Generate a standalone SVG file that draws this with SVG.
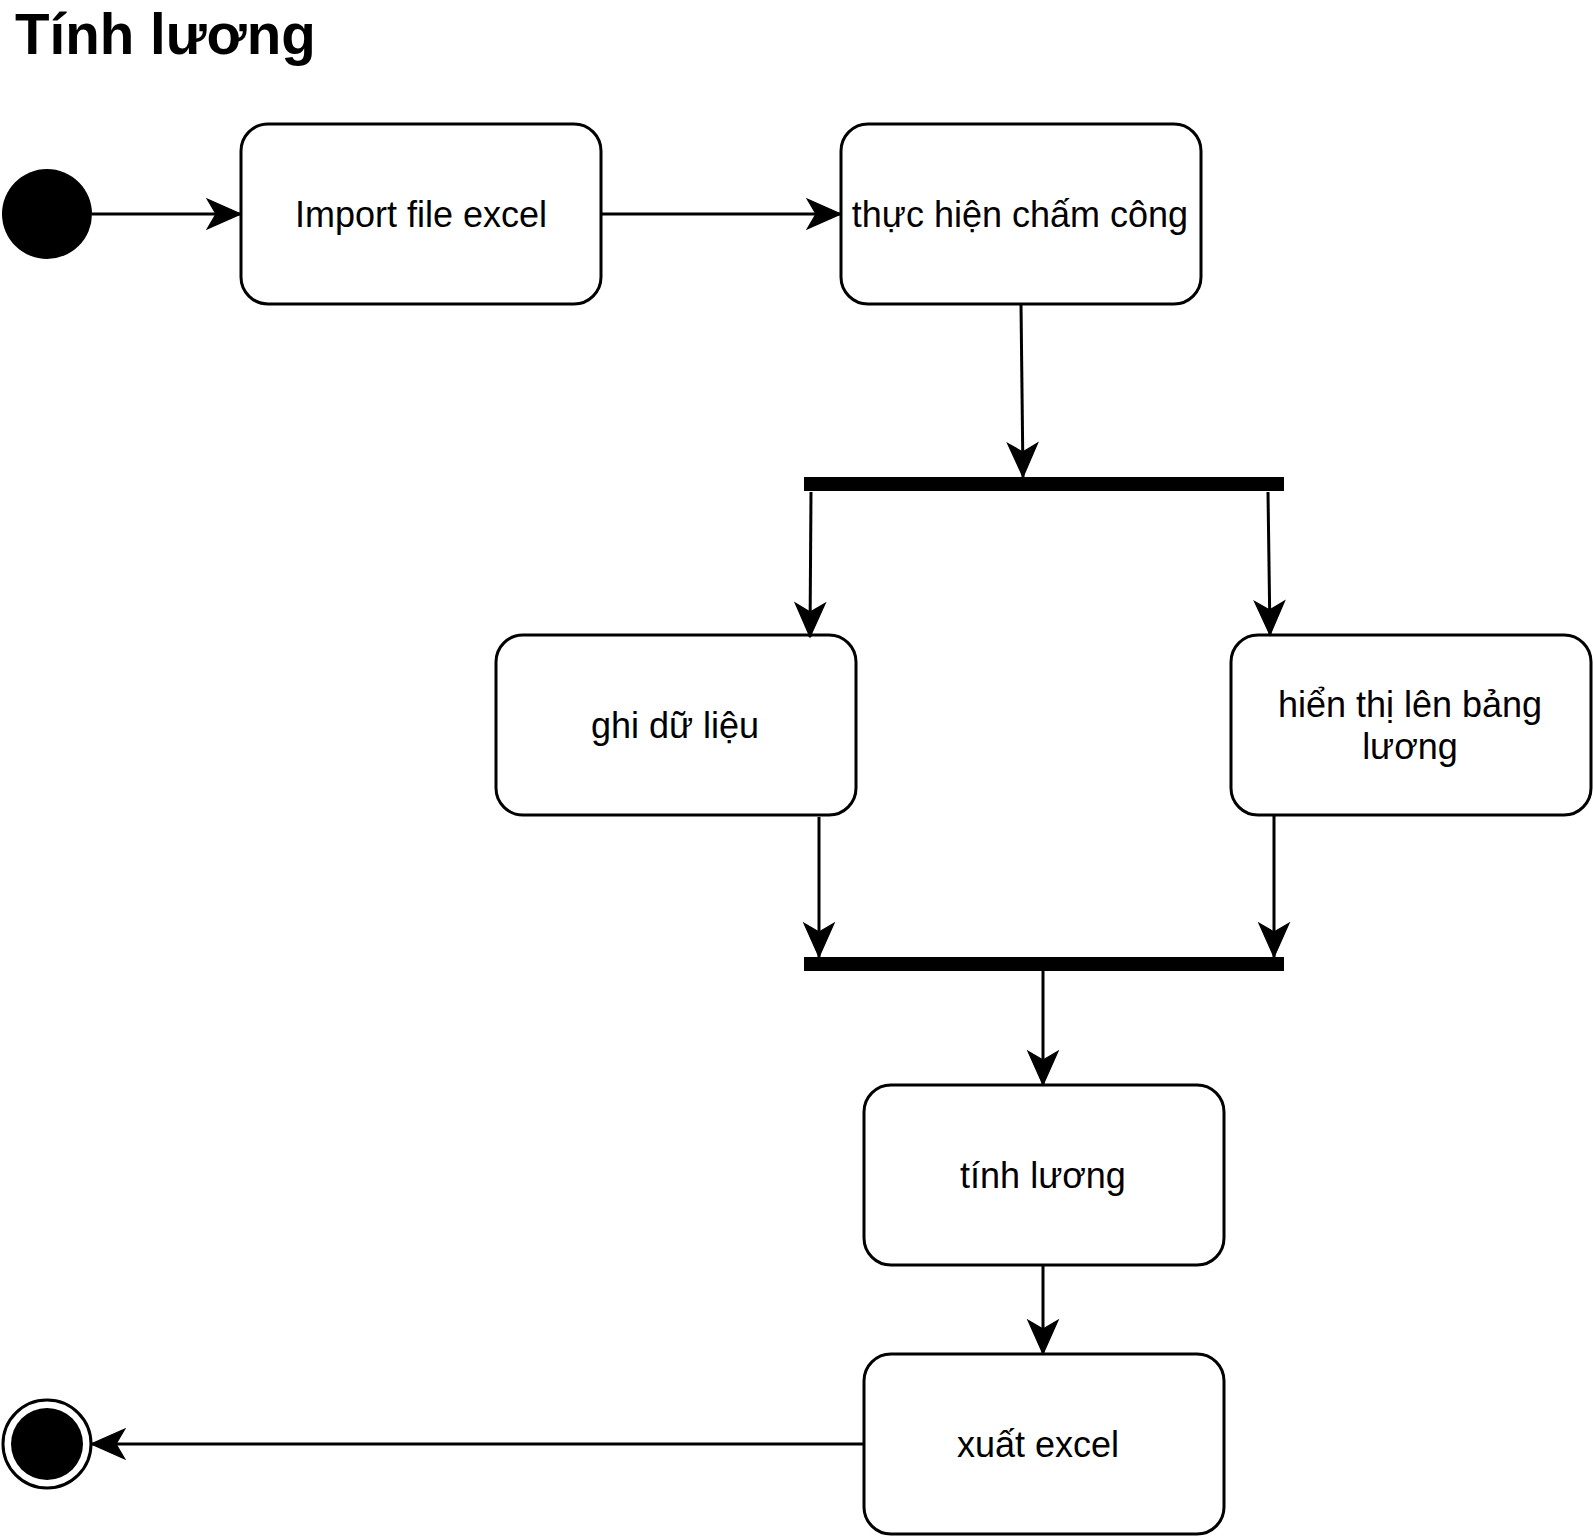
<svg xmlns="http://www.w3.org/2000/svg" width="1593" height="1536" viewBox="0 0 1593 1536">
<style>
.node rect{fill:#fff;stroke:#000;stroke-width:3}
.lbl{font-family:"Liberation Sans",Arial,sans-serif;font-size:36px;fill:#000;text-anchor:middle}
.title{font-family:"Liberation Sans",Arial,sans-serif;font-size:56.5px;font-weight:bold;fill:#000}
.edge{fill:none;stroke:#000;stroke-width:3}
.bar{fill:#000}
</style>
<defs>
<marker id="arr" markerUnits="userSpaceOnUse" markerWidth="40" markerHeight="40" viewBox="-30 -15 32 30" refX="0" refY="0" orient="auto">
<path d="M0,0 L-27,-12 L-20,0 L-27,12 Z" fill="#000" stroke="#000" stroke-width="1"/>
</marker>
</defs>
<text class="title" x="15" y="54">Tính lương</text>
<g id="start"><circle cx="47" cy="214" r="45" fill="#000"/></g>
<g id="import" class="node"><rect x="241" y="124" width="360" height="180" rx="27"/><text class="lbl" x="421" y="227">Import file excel</text></g>
<g id="chamcong" class="node"><rect x="841" y="124" width="360" height="180" rx="27"/><text class="lbl" x="1020" y="227">thực hiện chấm công</text></g>
<g id="fork"><rect class="bar" x="804" y="477" width="480" height="14"/></g>
<g id="ghi" class="node"><rect x="496" y="635" width="360" height="180" rx="27"/><text class="lbl" x="675" y="738">ghi dữ liệu</text></g>
<g id="hienthi" class="node"><rect x="1231" y="635" width="360" height="180" rx="27"/><text class="lbl" x="1410" y="717">hiển thị lên bảng</text><text class="lbl" x="1410" y="759">lương</text></g>
<g id="join"><rect class="bar" x="804" y="957" width="480" height="14"/></g>
<g id="tinhluong" class="node"><rect x="864" y="1085" width="360" height="180" rx="27"/><text class="lbl" x="1043" y="1188">tính lương</text></g>
<g id="xuat" class="node"><rect x="864" y="1354" width="360" height="180" rx="27"/><text class="lbl" x="1038" y="1457">xuất excel</text></g>
<g id="end"><circle cx="47" cy="1444" r="44" fill="#fff" stroke="#000" stroke-width="3"/><circle cx="47" cy="1444" r="36" fill="#000"/></g>
<g id="connectors">
<path class="edge" d="M92,214 L241,214" marker-end="url(#arr)"/>
<path class="edge" d="M601,214 L841,214" marker-end="url(#arr)"/>
<path class="edge" d="M1021,304 L1023,477" marker-end="url(#arr)"/>
<path class="edge" d="M811,492 L810,637" marker-end="url(#arr)"/>
<path class="edge" d="M1268,492 L1270,635" marker-end="url(#arr)"/>
<path class="edge" d="M819,817 L819,957" marker-end="url(#arr)"/>
<path class="edge" d="M1274,815 L1274,957" marker-end="url(#arr)"/>
<path class="edge" d="M1043,971 L1043,1085" marker-end="url(#arr)"/>
<path class="edge" d="M1043,1265 L1043,1354" marker-end="url(#arr)"/>
<path class="edge" d="M864,1444 L91,1444" marker-end="url(#arr)"/>
</g>
</svg>
